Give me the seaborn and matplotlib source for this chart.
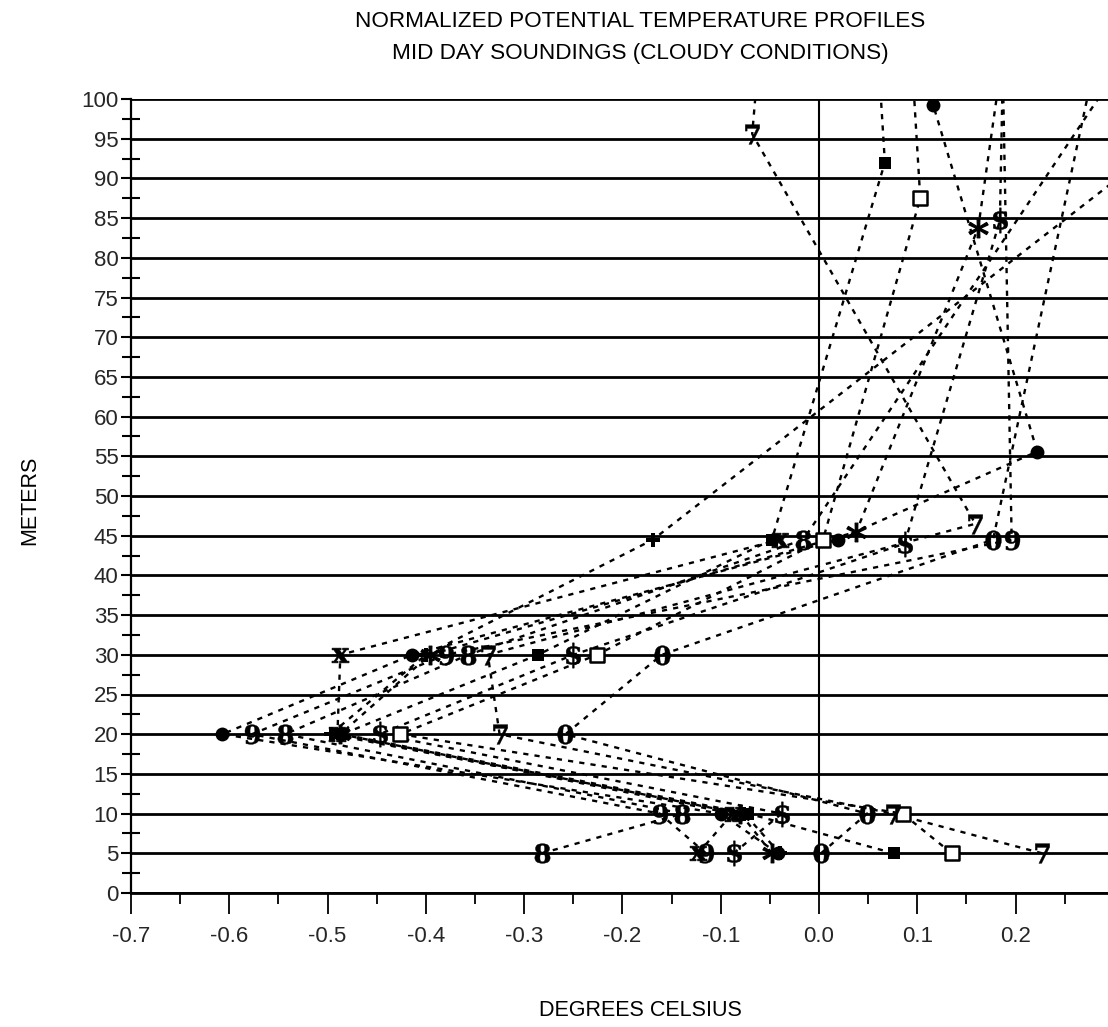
import numpy as np
import pandas as pd
import matplotlib
matplotlib.use("Agg")
import matplotlib.pyplot as plt
from matplotlib import font_manager
import seaborn as sns

# ---------------- data ----------------
x_circle = [-0.042, -0.100, -0.607, -0.414, 0.019, 0.222, 0.116]
y_circle = [5, 10, 20, 30, 44.5, 55.6, 99.3]

x_fsquare = [0.076, -0.072, -0.485, -0.286, -0.048, 0.067, 0.058]
y_fsquare = [5, 10, 20, 30, 44.5, 92.0, 110]

x_osquare = [0.135, 0.085, -0.426, -0.226, 0.004, 0.103, 0.092]
y_osquare = [5, 10, 20, 30, 44.5, 87.5, 110]

x_star = [-0.048, -0.080, -0.487, -0.396, 0.038, 0.162, 0.192]
y_star = [5, 10, 20, 30, 45.5, 83.8, 110]

x_dollar = [-0.087, -0.038, -0.447, -0.250, 0.087, 0.184, 0.188]
y_dollar = [5, 10, 20, 30, 44.0, 84.7, 110]

x_seven = [0.227, 0.075, -0.325, -0.337, 0.159, -0.068, -0.058]
y_seven = [5, 10, 20, 30, 46.5, 95.6, 110]

x_eight = [-0.282, -0.139, -0.543, -0.357, -0.016, 0.300]
y_eight = [5, 10, 20, 30, 44.5, 103]

x_nine = [-0.115, -0.162, -0.577, -0.380, 0.196, 0.186]
y_nine = [5, 10, 20, 30, 44.5, 110]

x_zero = [0.002, 0.049, -0.258, -0.160, 0.177, 0.290]
y_zero = [5, 10, 20, 30, 44.5, 110]

x_plus = [-0.040, -0.076, -0.497, -0.400, -0.169, 0.330]
y_plus = [5, 10, 20, 30, 44.5, 92.5]

x_cross = [-0.123, -0.088, -0.490, -0.487, -0.040]
y_cross = [5, 10, 20, 30, 44.5]

series = {
    "circle": (x_circle, y_circle),
    "fsquare": (x_fsquare, y_fsquare),
    "osquare": (x_osquare, y_osquare),
    "star": (x_star, y_star),
    "dollar": (x_dollar, y_dollar),
    "seven": (x_seven, y_seven),
    "eight": (x_eight, y_eight),
    "nine": (x_nine, y_nine),
    "zero": (x_zero, y_zero),
    "plus": (x_plus, y_plus),
    "cross": (x_cross, y_cross),
}

x_ticks = [-0.7, -0.6, -0.5, -0.4, -0.3, -0.2, -0.1, 0.0, 0.1, 0.2]
x_tick_labels = ["-0.7", "-0.6", "-0.5", "-0.4", "-0.3", "-0.2", "-0.1", "0.0", "0.1", "0.2"]
y_ticks = list(range(0, 101, 5))

title_text = "NORMALIZED POTENTIAL TEMPERATURE PROFILES\nMID DAY SOUNDINGS (CLOUDY CONDITIONS)"
xlabel_text = "DEGREES CELSIUS"
ylabel_text = "METERS"

# ---------------- styling ----------------
sns.set_theme(style="white")
avail = {f.name for f in font_manager.fontManager.ttflist}
narrow = "Liberation Sans Narrow" if "Liberation Sans Narrow" in avail else "Liberation Sans"
plt.rcParams["font.family"] = [narrow, "DejaVu Sans"]
plt.rcParams["mathtext.fontset"] = "dejavuserif"

marker_style = {
    "circle":  dict(marker="o", s=100, fc="black", ec="black", lw=0),
    "fsquare": dict(marker="s", s=85, fc="black", ec="black", lw=0),
    "osquare": dict(marker="s", s=115, fc="white", ec="black", lw=1.8),
    "star":    dict(marker=r"$\ast$", s=190, fc="black", ec="black", lw=0.9),
    "dollar":  dict(marker=r"$\mathbf{\$}$", s=330, fc="black", ec="black", lw=0.4),
    "seven":   dict(marker=r"$\mathbf{7}$", s=200, fc="black", ec="black", lw=0.3),
    "eight":   dict(marker=r"$\mathbf{8}$", s=200, fc="black", ec="black", lw=0.3),
    "nine":    dict(marker=r"$\mathbf{9}$", s=200, fc="black", ec="black", lw=0.3),
    "zero":    dict(marker=r"$\mathbf{0}$", s=200, fc="black", ec="black", lw=0.3),
    "plus":    dict(marker="P", s=95, fc="black", ec="black", lw=0),
    "cross":   dict(marker=r"$\mathbf{x}$", s=150, fc="black", ec="black", lw=0.5),
}

rows = []
for name, (xs, ys) in series.items():
    for i, (xv, yv) in enumerate(zip(xs, ys)):
        rows.append({"series": name, "order": i, "x": xv, "y": yv})
df = pd.DataFrame(rows)

W, H = 1108, 1027
fig = plt.figure(figsize=(W / 100, H / 100), dpi=100)
ax = fig.add_axes([131 / W, 1 - 893 / H, 1 - 131 / W, (893 - 99) / H])

XMIN, XMAX = -0.7, 0.294
YMIN, YMAX = 0, 100

# horizontal grid lines every 5 m
for yv in y_ticks:
    ax.axhline(yv, color="black", lw=2.0, zorder=1)
ax.axvline(0.0, color="black", lw=1.5, zorder=1)

# dashed profile lines
sns.lineplot(data=df, x="x", y="y", units="series", estimator=None, sort=False,
             color="black", lw=1.7, linestyle=(0, (2.2, 2.6)), ax=ax,
             legend=False, zorder=2)

# symbols
vis = df[(df.y <= YMAX + 0.5) & (df.x <= XMAX)]
for name, st in marker_style.items():
    sub = vis[vis.series == name]
    if sub.empty:
        continue
    sns.scatterplot(data=sub, x="x", y="y", marker=st["marker"], s=st["s"],
                    facecolor=st["fc"], edgecolor=st["ec"], linewidth=st["lw"],
                    ax=ax, legend=False, zorder=3)

ax.set_xlim(XMIN, XMAX)
ax.set_ylim(YMIN, YMAX)

ax.set_yticks(y_ticks)
ax.set_yticklabels([str(v) for v in y_ticks])
ax.set_yticks(np.arange(2.5, 100, 5), minor=True)
ax.set_xticks(x_ticks)
ax.set_xticklabels(x_tick_labels)
ax.set_xticks(np.arange(-0.65, 0.29, 0.1), minor=True)

ax.tick_params(axis="y", which="major", direction="out", length=7, width=1.5,
               color="black", pad=2, labelsize=16, left=True)
ax.tick_params(axis="y", which="minor", direction="inout", length=13, width=1.5,
               color="black", left=True)
ax.tick_params(axis="x", which="major", direction="out", length=15, width=1.3,
               color="black", pad=9, labelsize=16, bottom=True)
ax.tick_params(axis="x", which="minor", direction="out", length=8, width=1.3,
               color="black", bottom=True)

for side in ["top", "right"]:
    ax.spines[side].set_visible(False)
ax.spines["left"].set_color("black")
ax.spines["left"].set_linewidth(1.6)
ax.spines["bottom"].set_color("black")
ax.spines["bottom"].set_linewidth(2.0)
ax.set_xlabel("")
ax.set_ylabel("")

fig.text(640 / W, 1 - 37.5 / H, title_text, ha="center", va="center",
         fontsize=16.2, linespacing=1.66, color="black")
fig.text(640 / W, 1 - 1010 / H, xlabel_text, ha="center", va="center",
         fontsize=15.5, color="black")
fig.text(30 / W, 1 - 500 / H, ylabel_text, ha="center", va="center",
         rotation=90, fontsize=15.5, color="black")

fig.savefig("out.png", dpi=100, facecolor="white")
